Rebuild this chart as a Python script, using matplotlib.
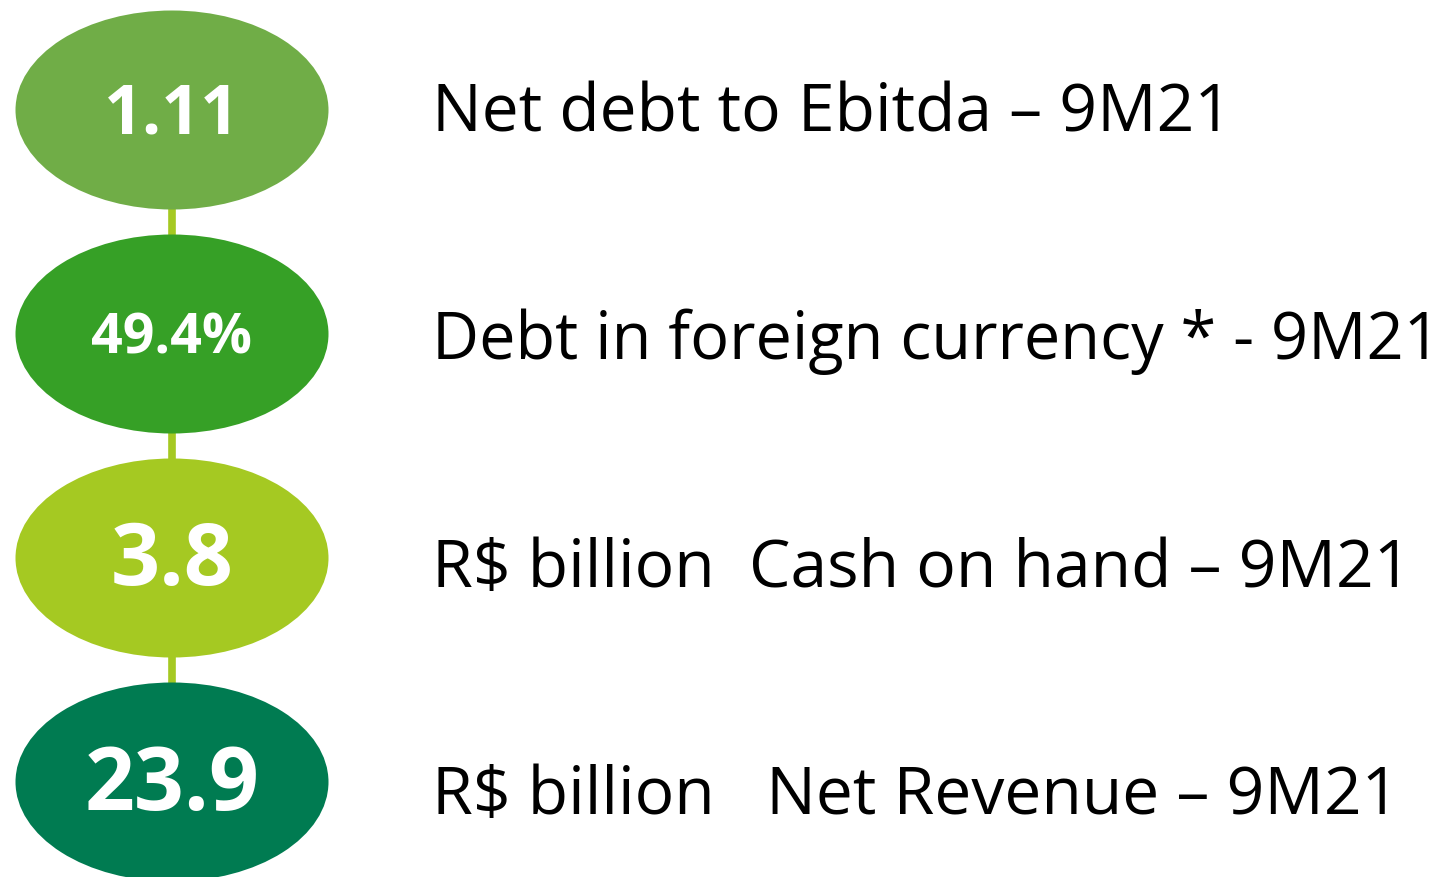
import matplotlib.pyplot as plt
from matplotlib.patches import Ellipse

values = ['1.11', '49.4%', '3.8', '23.9']
labels = ['Net debt to Ebitda \u2013 9M21',
          'Debt in foreign currency * - 9M21',
          'R$ billion  Cash on hand \u2013 9M21',
          'R$ billion   Net Revenue \u2013 9M21']
colors = ['#70AD47', '#36A026', '#A5C922', '#007B51']
value_sizes = [49, 40, 62, 63]
label_sizes = [47.5, 46.7, 47.5, 47.5]

fig = plt.figure(figsize=(14.5, 8.77), dpi=100)
ax = fig.add_axes([0, 0, 1, 1])
ax.set_xlim(0, 1450)
ax.set_ylim(877, 0)
ax.axis('off')

cx, w, h = 172, 313, 199
centers = [110, 334, 558, 782]
baselines = [131, 359, 587, 814]

# connector behind the ovals
ax.plot([cx, cx], [centers[0], centers[-1]], color='#A5C922', lw=5.5, zorder=1,
        solid_capstyle='butt')

for i, val in enumerate(values):
    ax.add_patch(Ellipse((cx, centers[i]), w, h, facecolor=colors[i],
                         edgecolor='none', zorder=2))
    ax.text(cx, centers[i] + 5, val, color='white', fontsize=value_sizes[i],
            fontweight='bold', ha='center', va='center', family='Open Sans', zorder=3)
    ax.text(432, baselines[i], labels[i], color='black', fontsize=label_sizes[i],
            ha='left', va='baseline', family='Open Sans', zorder=3)

fig.savefig('out.png', dpi=100)
